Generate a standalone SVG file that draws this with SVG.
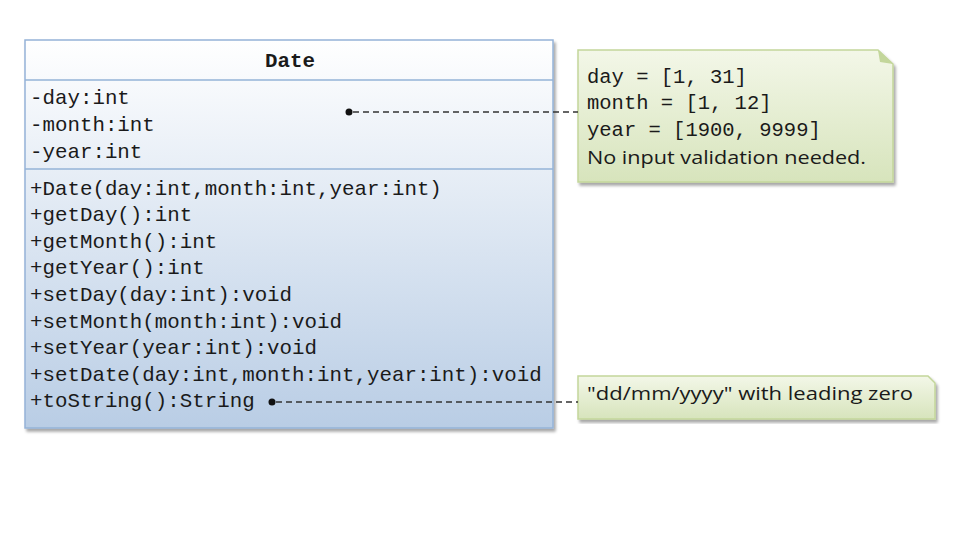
<svg xmlns="http://www.w3.org/2000/svg" width="960" height="540" viewBox="0 0 960 540">
<defs>
<linearGradient id="cls" x1="0" y1="0" x2="0" y2="1">
<stop offset="0" stop-color="#ffffff"/>
<stop offset="1" stop-color="#b9cde5"/>
</linearGradient>
<linearGradient id="note" x1="0" y1="0" x2="0" y2="1">
<stop offset="0" stop-color="#f3f7e8"/>
<stop offset="1" stop-color="#d7e4bc"/>
</linearGradient>
<filter id="sh" x="-5%" y="-5%" width="110%" height="115%">
<feGaussianBlur in="SourceAlpha" stdDeviation="1.5"/>
<feOffset dx="2" dy="3"/>
<feComponentTransfer><feFuncA type="linear" slope="0.35"/></feComponentTransfer>
<feMerge><feMergeNode/><feMergeNode in="SourceGraphic"/></feMerge>
</filter>
</defs>
<style>
.mono{font-family:"Liberation Mono","DejaVu Sans Mono",monospace;font-size:20.8px;fill:#1a1a1a}
.nmono{font-family:"Liberation Mono","DejaVu Sans Mono",monospace;font-size:20.5px;fill:#1a1a1a}
.sans{font-family:"Open Sans","Liberation Sans",sans-serif;font-size:18px;fill:#1a1a1a}
.bold{font-weight:bold}
.div{stroke:#95b3d7;stroke-width:1.5}
.conn{stroke:#333;stroke-width:1.3;stroke-dasharray:6,4;fill:none}
</style>
<rect width="960" height="540" fill="#ffffff"/>
<g id="class-Date">
<rect x="25" y="40" width="528" height="388" fill="url(#cls)" stroke="#95b3d7" stroke-width="1.5" filter="url(#sh)"/>
<line class="div" x1="25" y1="80" x2="553" y2="80"/>
<line class="div" x1="25" y1="169" x2="553" y2="169"/>
<text class="mono bold" x="290" y="67" text-anchor="middle">Date</text>
<text class="mono" x="30" y="104">-day:int</text>
<text class="mono" x="30" y="131">-month:int</text>
<text class="mono" x="30" y="158">-year:int</text>
<text class="mono" x="30" y="195">+Date(day:int,month:int,year:int)</text>
<text class="mono" x="30" y="221">+getDay():int</text>
<text class="mono" x="30" y="248">+getMonth():int</text>
<text class="mono" x="30" y="274">+getYear():int</text>
<text class="mono" x="30" y="301">+setDay(day:int):void</text>
<text class="mono" x="30" y="328">+setMonth(month:int):void</text>
<text class="mono" x="30" y="354">+setYear(year:int):void</text>
<text class="mono" x="30" y="381">+setDate(day:int,month:int,year:int):void</text>
<text class="mono" x="30" y="407">+toString():String</text>
</g>
<g id="note-ranges">
<path d="M578,50 H878 L893,64 V182 H578 Z" fill="url(#note)" stroke="#c3d69b" stroke-width="1.5" filter="url(#sh)"/>
<path d="M878,50 L880,62 L893,64 Z" fill="#c3d69b"/>
<text class="nmono" x="587" y="83">day = [1, 31]</text>
<text class="nmono" x="587" y="109">month = [1, 12]</text>
<text class="nmono" x="587" y="136">year = [1900, 9999]</text>
<text class="sans" x="587" y="164" textLength="279" lengthAdjust="spacingAndGlyphs">No input validation needed.</text>
</g>
<g id="note-format">
<path d="M578,376 H928 L935,383 V419 H578 Z" fill="url(#note)" stroke="#c3d69b" stroke-width="1.5" filter="url(#sh)"/>
<text class="sans" x="587" y="400" textLength="326" lengthAdjust="spacingAndGlyphs">"dd/mm/yyyy" with leading zero</text>
</g>
<g id="connectors">
<circle cx="349" cy="112" r="3.5" fill="#111"/>
<line class="conn" x1="353" y1="112" x2="578" y2="112"/>
<circle cx="272" cy="402" r="3.5" fill="#111"/>
<line class="conn" x1="276" y1="402" x2="578" y2="402"/>
</g>
</svg>
